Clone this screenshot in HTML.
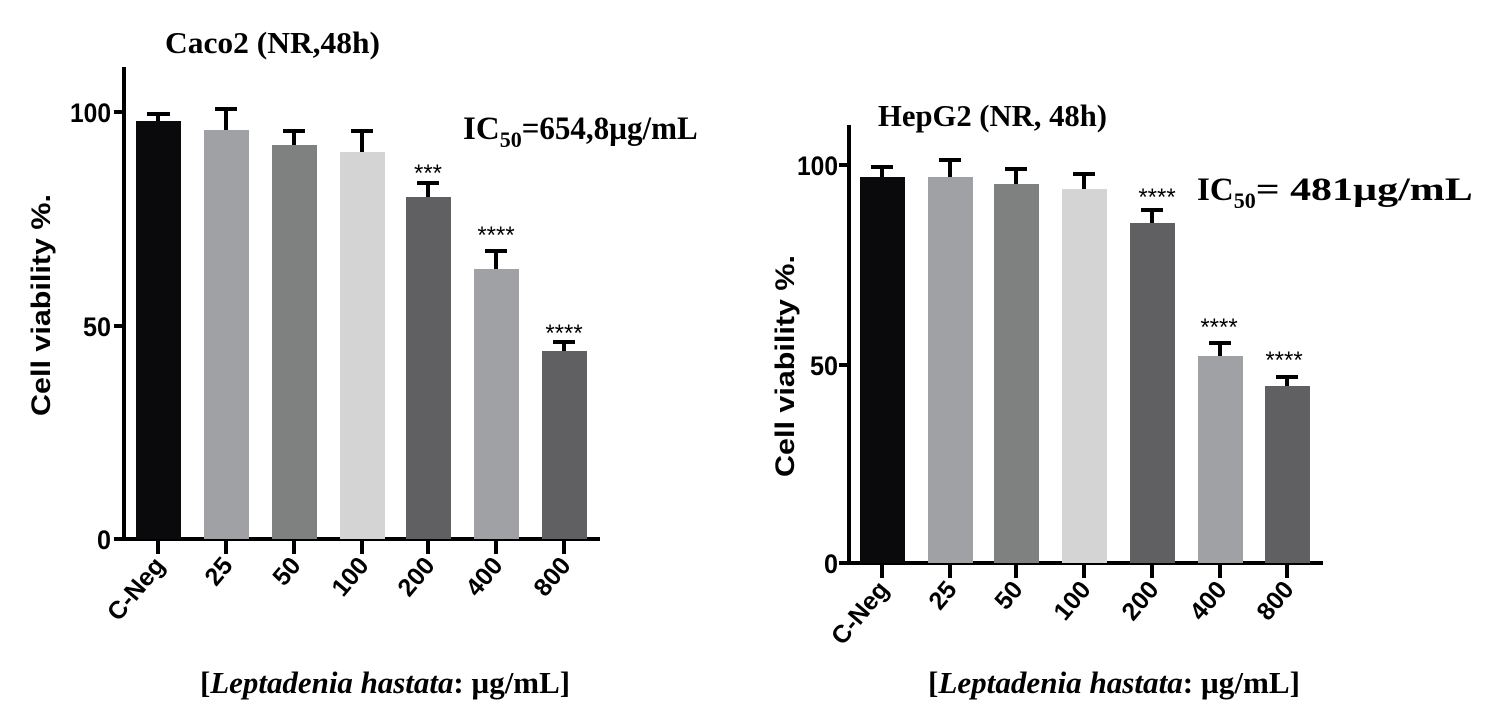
<!DOCTYPE html>
<html><head><style>
html,body{margin:0;padding:0;background:#fff;}
svg{display:block;}
.t{font-family:"Liberation Serif",serif;font-weight:bold;}
.s{font-family:"Liberation Sans",sans-serif;font-weight:bold;}
</style></head><body>
<svg width="1500" height="722" viewBox="0 0 1500 722" xmlns="http://www.w3.org/2000/svg">
<!-- LEFT -->
<text class="t" x="165" y="53" font-size="31" textLength="215" lengthAdjust="spacingAndGlyphs">Caco2 (NR,48h)</text>
<g fill="none" stroke="#000" stroke-width="4">
<line x1="124" y1="67" x2="124" y2="541"/>
<line x1="122" y1="539" x2="600" y2="539"/>
<line x1="114" y1="112" x2="124" y2="112"/>
<line x1="114" y1="326" x2="124" y2="326"/>
<line x1="114" y1="539" x2="124" y2="539"/>
</g>
<g class="s" font-size="27">
<text x="70" y="122" textLength="41" lengthAdjust="spacingAndGlyphs">100</text>
<text x="83" y="336" textLength="28" lengthAdjust="spacingAndGlyphs">50</text>
<text x="97" y="549" textLength="14" lengthAdjust="spacingAndGlyphs">0</text>
</g>
<text class="s" font-size="27" text-anchor="middle" transform="translate(50,305) rotate(-90)" textLength="222" lengthAdjust="spacingAndGlyphs">Cell viability %.</text>
<g>
<rect x="136" y="121" width="45" height="418" fill="#0a0a0c"/>
<rect x="204" y="130" width="45" height="409" fill="#a0a1a4"/>
<rect x="272" y="145" width="45" height="394" fill="#7f8080"/>
<rect x="340" y="152" width="45" height="387" fill="#d4d4d4"/>
<rect x="406" y="197" width="45" height="342" fill="#606062"/>
<rect x="474" y="269" width="45" height="270" fill="#a0a1a4"/>
<rect x="542" y="351" width="45" height="188" fill="#606062"/>
</g>
<g stroke="#000" stroke-width="4">
<line x1="158" y1="121" x2="158" y2="114"/><line x1="147" y1="114" x2="170" y2="114"/>
<line x1="226" y1="130" x2="226" y2="109"/><line x1="215" y1="109" x2="237" y2="109"/>
<line x1="294" y1="145" x2="294" y2="131"/><line x1="283" y1="131" x2="305" y2="131"/>
<line x1="362" y1="152" x2="362" y2="131"/><line x1="351" y1="131" x2="373" y2="131"/>
<line x1="428" y1="197" x2="428" y2="183"/><line x1="417" y1="183" x2="439" y2="183"/>
<line x1="496" y1="269" x2="496" y2="251"/><line x1="485" y1="251" x2="507" y2="251"/>
<line x1="564" y1="351" x2="564" y2="342"/><line x1="553" y1="342" x2="575" y2="342"/>
<line x1="158" y1="539" x2="158" y2="554"/><line x1="226" y1="539" x2="226" y2="554"/>
<line x1="294" y1="539" x2="294" y2="554"/><line x1="362" y1="539" x2="362" y2="554"/>
<line x1="428" y1="539" x2="428" y2="554"/><line x1="496" y1="539" x2="496" y2="554"/>
<line x1="564" y1="539" x2="564" y2="554"/>
</g>
<g font-size="24" text-anchor="middle" font-family="Liberation Sans, sans-serif">
<text x="428" y="181">***</text>
<text x="496" y="243">****</text>
<text x="564" y="341">****</text>
</g>
<text class="t" x="463" y="139" font-size="33">IC<tspan font-size="22" dy="8">50</tspan><tspan dy="-8" textLength="176" lengthAdjust="spacingAndGlyphs">=654,8µg/mL</tspan></text>
<g class="s" font-size="25" text-anchor="end">
<text transform="translate(166,566) rotate(-50)">C-Neg</text>
<text transform="translate(234,566) rotate(-50)">25</text>
<text transform="translate(302,566) rotate(-50)">50</text>
<text transform="translate(370,566) rotate(-50)">100</text>
<text transform="translate(436,566) rotate(-50)">200</text>
<text transform="translate(504,566) rotate(-50)">400</text>
<text transform="translate(572,566) rotate(-50)">800</text>
</g>
<text x="200" y="693" font-size="31" class="t" textLength="370" lengthAdjust="spacingAndGlyphs">[<tspan font-style="italic">Leptadenia hastata</tspan>: µg/mL]</text>

<!-- RIGHT -->
<text class="t" x="878" y="126" font-size="31" textLength="229" lengthAdjust="spacingAndGlyphs">HepG2 (NR, 48h)</text>
<g fill="none" stroke="#000" stroke-width="4">
<line x1="849" y1="125" x2="849" y2="565"/>
<line x1="847" y1="563" x2="1323" y2="563"/>
<line x1="839" y1="165" x2="849" y2="165"/>
<line x1="839" y1="365" x2="849" y2="365"/>
<line x1="839" y1="563" x2="849" y2="563"/>
</g>
<g class="s" font-size="27">
<text x="797" y="175" textLength="41" lengthAdjust="spacingAndGlyphs">100</text>
<text x="810" y="375" textLength="28" lengthAdjust="spacingAndGlyphs">50</text>
<text x="824" y="573" textLength="14" lengthAdjust="spacingAndGlyphs">0</text>
</g>
<text class="s" font-size="27" text-anchor="middle" transform="translate(794,366) rotate(-90)" textLength="222" lengthAdjust="spacingAndGlyphs">Cell viability %.</text>
<g>
<rect x="860" y="177" width="45" height="386" fill="#0a0a0c"/>
<rect x="928" y="177" width="45" height="386" fill="#a0a1a4"/>
<rect x="994" y="184" width="45" height="379" fill="#7f8080"/>
<rect x="1062" y="189" width="45" height="374" fill="#d4d4d4"/>
<rect x="1130" y="223" width="45" height="340" fill="#606062"/>
<rect x="1198" y="356" width="45" height="207" fill="#a0a1a4"/>
<rect x="1265" y="386" width="45" height="177" fill="#606062"/>
</g>
<g stroke="#000" stroke-width="4">
<line x1="882" y1="177" x2="882" y2="167"/><line x1="871" y1="167" x2="893" y2="167"/>
<line x1="950" y1="177" x2="950" y2="160"/><line x1="939" y1="160" x2="961" y2="160"/>
<line x1="1016" y1="184" x2="1016" y2="169"/><line x1="1005" y1="169" x2="1027" y2="169"/>
<line x1="1084" y1="189" x2="1084" y2="174"/><line x1="1073" y1="174" x2="1095" y2="174"/>
<line x1="1152" y1="223" x2="1152" y2="210"/><line x1="1141" y1="210" x2="1163" y2="210"/>
<line x1="1220" y1="356" x2="1220" y2="343"/><line x1="1209" y1="343" x2="1231" y2="343"/>
<line x1="1287" y1="386" x2="1287" y2="377"/><line x1="1276" y1="377" x2="1298" y2="377"/>
<line x1="882" y1="563" x2="882" y2="578"/><line x1="950" y1="563" x2="950" y2="578"/>
<line x1="1016" y1="563" x2="1016" y2="578"/><line x1="1084" y1="563" x2="1084" y2="578"/>
<line x1="1152" y1="563" x2="1152" y2="578"/><line x1="1220" y1="563" x2="1220" y2="578"/>
<line x1="1287" y1="563" x2="1287" y2="578"/>
</g>
<g font-size="24" text-anchor="middle" font-family="Liberation Sans, sans-serif">
<text x="1157" y="205">****</text>
<text x="1219" y="335">****</text>
<text x="1284" y="368">****</text>
</g>
<text class="t" x="1197" y="200" font-size="33">IC<tspan font-size="22" dy="8">50</tspan><tspan dy="-8" textLength="217" lengthAdjust="spacingAndGlyphs">= 481µg/mL</tspan></text>
<g class="s" font-size="25" text-anchor="end">
<text transform="translate(890,590) rotate(-50)">C-Neg</text>
<text transform="translate(958,590) rotate(-50)">25</text>
<text transform="translate(1024,590) rotate(-50)">50</text>
<text transform="translate(1092,590) rotate(-50)">100</text>
<text transform="translate(1160,590) rotate(-50)">200</text>
<text transform="translate(1228,590) rotate(-50)">400</text>
<text transform="translate(1295,590) rotate(-50)">800</text>
</g>
<text x="928" y="693" font-size="31" class="t" textLength="372" lengthAdjust="spacingAndGlyphs">[<tspan font-style="italic">Leptadenia hastata</tspan>: µg/mL]</text>
</svg>
</body></html>
